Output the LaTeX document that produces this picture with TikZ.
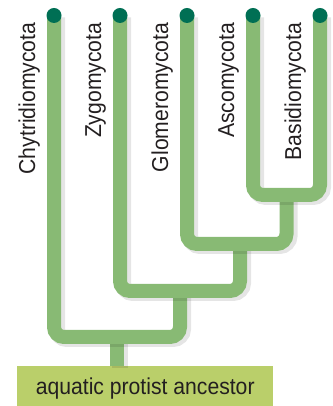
\documentclass[tikz,border=0pt]{standalone}
\usepackage{fontspec}
\setmainfont{Liberation Sans}[FakeStretch=0.92]

\definecolor{fungigreen}{HTML}{88BA74}
\definecolor{fungitip}{HTML}{006F54}
\definecolor{ancestorgreen}{HTML}{BACF6A}
\definecolor{labelgray}{HTML}{231F20}

\begin{document}
\begin{tikzpicture}[x=1pt, y=1pt,
    branch/.style={line width=14pt, fungigreen, rounded corners=10pt,
        preaction={draw, black, opacity=0.1, line width=16pt,
            transform canvas={shift={(3pt,-2pt)}}}},
    tipdot/.style={circle, fill=fungitip, inner sep=0pt, minimum size=15pt},
    phylum/.style={rotate=90, anchor=base east, inner sep=0pt, text=labelgray,
        font=\fontsize{23}{25}\selectfont}]
    \useasboundingbox (0,0) rectangle (332,406);

    % Tips of the tree
    \coordinate (chy) at (54,390.5);
    \coordinate (zyg) at (120,390.5);
    \coordinate (glo) at (187,390.5);
    \coordinate (asc) at (253,390.5);
    \coordinate (bas) at (320,390.5);

    % Branch points
    \coordinate (nAB) at (286.5,211);
    \coordinate (nGAB) at (240,162);
    \coordinate (nZG) at (180,115);
    \coordinate (nRoot) at (117,69);

    % Ancestor box
    \node[fill=ancestorgreen, text=labelgray, inner sep=0pt, anchor=south west,
        minimum width=256pt, text height=28.3pt, text depth=11.7pt,
        font=\fontsize{23}{25}\selectfont] (ancestor) at (17,0) {aquatic protist ancestor};

    % Branches
    \draw[branch] (nRoot) -- (nRoot |- ancestor.north);
    \draw[branch] (chy) |- (nRoot) -| (nZG);
    \draw[branch] (zyg) |- (nZG) -| (nGAB);
    \draw[branch] (glo) |- (nGAB) -| (nAB);
    \draw[branch] (asc) |- (nAB) -| (bas);

    % Dots at the tips
    \node[tipdot] (chydot) at (chy) {};
    \node[tipdot] (zygdot) at (zyg) {};
    \node[tipdot] (glodot) at (glo) {};
    \node[tipdot] (ascdot) at (asc) {};
    \node[tipdot] (basdot) at (bas) {};

    % Phylum names
    \node[phylum] (chylab) at (35,383.5) {Chytridiomycota};
    \node[phylum] (zyglab) at (101,383.5) {Zygomycota};
    \node[phylum] (glolab) at (168,383.5) {Glomeromycota};
    \node[phylum] (asclab) at (234,383.5) {Ascomycota};
    \node[phylum] (baslab) at (301,383.5) {Basidiomycota};
\end{tikzpicture}
\end{document}
